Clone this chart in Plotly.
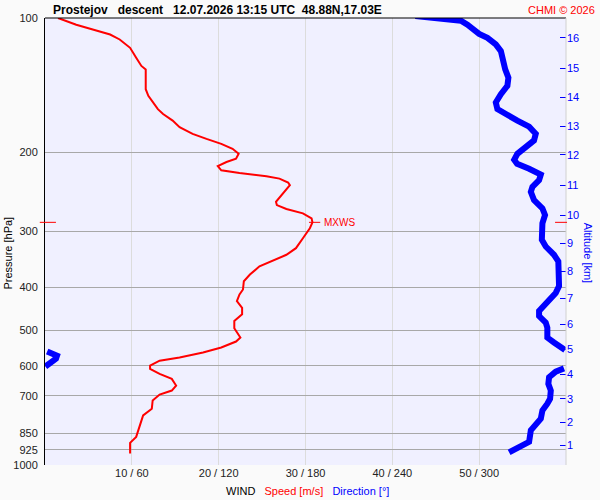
import numpy as np
import plotly.graph_objects as go

# ---------------- data ----------------
speed_p = [100, 103.5, 106.2, 108.9, 111.7, 116.6, 122.7, 128.0, 130.3, 144.3,
           149.3, 154.5, 159.9, 164.0, 169.6, 175.5, 181.6, 186.4, 191.2, 196.2,
           201.3, 206.5, 210.0, 214.4, 219.1, 222.2, 225.9, 228.7, 233.4, 236.6,
           244.8, 257.7, 262.1, 267.5, 273.6, 280.7, 286.5, 295.4, 311.0, 327.3,
           338.6, 349.1, 359.4, 375.0, 388.1, 404.9, 415.5, 429.9, 444.9, 460.2,
           476.2, 494.3, 518.7, 529.4, 546.0, 560.1, 574.6, 584.4, 599.5, 609.7,
           625.5, 641.8, 664.2, 681.5, 695.6, 717.3, 748.2, 774.3, 822.0, 865.1,
           892.1, 941.9]
speed = [1.5, 3.6, 5.6, 7.5, 8.6, 9.8, 10.5, 11.1, 11.6, 11.6,
         11.9, 12.4, 13.0, 13.6, 14.7, 15.5, 17.0, 18.6, 20.3, 21.6,
         22.3, 22.0, 20.9, 19.9, 20.3, 22.4, 25.5, 27.0, 28.0, 28.2,
         27.6, 26.6, 26.7, 27.8, 29.7, 30.7, 30.8, 30.5, 29.7, 28.9,
         27.8, 26.2, 24.7, 23.6, 22.9, 22.8, 22.4, 22.1, 22.7, 22.7,
         21.8, 21.8, 22.5, 22.0, 20.3, 18.2, 15.5, 13.2, 12.1, 12.1,
         13.2, 14.6, 15.1, 14.6, 13.2, 12.4, 12.3, 11.3, 10.9, 10.5,
         9.8, 9.8]

dir_p = [99.0, 99.6, 100.4, 101.4, 103.5, 106.2, 108.5, 110.8, 114.6, 118.6,
         124.8, 130.3, 136.0, 141.8, 148.1, 154.5, 159.9, 164.5, 169.6, 175.0,
         181.6, 187.9, 194.5, 201.3, 207.6, 211.8, 217.4, 224.1, 230.6, 238.6,
         244.8, 255.5, 266.7, 275.9, 287.9, 313.5, 324.5, 338.6, 350.4, 381.6,
         398.1, 412.1, 429.9, 452.4, 464.2, 480.4, 492.8, 518.7, 532.1, 546.0,
         553.0, 557.0, 561.0, 569.6, 578.4, 590.3, 602.0, 607.8, 618.2, 636.6,
         658.5, 681.5, 710.9, 729.4, 754.8, 787.5, 815.0, 836.2, 887.6, 906.0,
         918.2, 937.1]
direction = [255.9, 267.6, 279.3, 287.4, 291.9, 296.6, 300.0, 305.7, 311.5, 315.0,
             316.1, 318.0, 320.2, 319.5, 315.0, 311.5, 312.6, 318.4, 326.4, 334.5,
             339.1, 337.9, 332.2, 326.4, 324.2, 326.2, 334.5, 342.6, 341.4, 336.8,
             335.7, 337.9, 343.7, 345.5, 343.7, 343.3, 346.0, 351.7, 354.7, 354.7,
             355.2, 352.9, 347.1, 341.4, 341.4, 346.0, 347.1, 347.1, 351.7, 356.4,
             359.3, 1.5, 4.8, 8.3, 7.6, 3.4, 0.3, 358.6, 352.9, 348.3,
             347.8, 349.5, 349.0, 347.1, 343.7, 342.6, 339.1, 335.7, 334.5, 329.9,
             325.3, 320.7]

pressure_ticks = [100, 200, 300, 400, 500, 600, 700, 850, 925, 1000]
speed_ticks = [10, 20, 30, 40, 50]
speed_tick_text = ["10 / 60", "20 / 120", "30 / 180", "40 / 240", "50 / 300"]
alt_km = list(range(1, 17))
alt_p = [902.8, 803.9, 710.9, 627.8, 551.0, 484.3, 423.3, 368.7,
         319.5, 275.9, 236.6, 202.3, 174.7, 150.6, 129.4, 110.8]

title_text = ("Prostejov\u00a0\u00a0\u00a0descent\u00a0\u00a0\u00a012.07.2026 13:15 UTC"
              "\u00a0\u00a048.88N,17.03E")

# ---------------- figure ----------------
FONT = "Liberation Sans, Arial, sans-serif"
RED = "#FF0000"
BLUE = "#0000FF"

# split direction where it wraps around 0/360
dx, dy = [], []
for i, (d, p) in enumerate(zip(direction, dir_p)):
    if i > 0 and abs(d - direction[i - 1]) > 180:
        dx.append(None)
        dy.append(None)
    dx.append(d)
    dy.append(p)

fig = go.Figure()
fig.add_trace(go.Scatter(x=speed, y=speed_p, mode="lines",
                         line=dict(color=RED, width=2), hoverinfo="skip",
                         xaxis="x", yaxis="y"))
fig.add_trace(go.Scatter(x=dx, y=dy, mode="lines",
                         line=dict(color=BLUE, width=6), hoverinfo="skip",
                         connectgaps=False, xaxis="x2", yaxis="y"))
# invisible trace so the altitude axis is drawn
fig.add_trace(go.Scatter(x=[None] * len(alt_p), y=alt_p, mode="lines",
                         hoverinfo="skip", xaxis="x", yaxis="y2"))

imax = int(np.argmax(speed))
vmax = speed[imax]
pmax = speed_p[imax]

shapes = [
    dict(type="line", xref="paper", yref="paper", x0=0, x1=1, y0=1, y1=1,
         line=dict(color="black", width=1)),
    dict(type="line", xref="paper", yref="paper", x0=1, x1=1, y0=0, y1=1,
         line=dict(color="#D0D0D0", width=1)),
    dict(type="line", xref="paper", yref="y", x0=-0.01, x1=0.021,
         y0=pmax, y1=pmax, line=dict(color=RED, width=1)),
    dict(type="line", xref="x", yref="y", x0=vmax - 0.4, x1=vmax + 0.9,
         y0=pmax, y1=pmax, line=dict(color=RED, width=1)),
    dict(type="line", xref="paper", yref="y", x0=0.979, x1=1.002,
         y0=pmax, y1=pmax, line=dict(color=RED, width=1)),
]

annotations = [
    dict(text=title_text, xref="paper", yref="paper", x=0.0115, y=1.0178,
         xanchor="left", yanchor="middle", showarrow=False,
         font=dict(family=FONT, size=12, color="black", weight="bold")),
    dict(text="CHMI © 2026", xref="paper", yref="paper", x=1.0595, y=1.0178,
         xanchor="right", yanchor="middle", showarrow=False,
         font=dict(family=FONT, size=11, color=RED)),
    dict(text="MXWS", xref="x", yref="y", x=vmax + 1.15, y=np.log10(pmax),
         xanchor="left", yanchor="middle", showarrow=False,
         font=dict(family=FONT, size=10, color=RED)),
    dict(text="Pressure [hPa]", xref="paper", yref="paper", x=-0.071, y=0.473,
         xanchor="center", yanchor="middle", textangle=-90, showarrow=False,
         font=dict(family=FONT, size=11, color="black")),
    dict(text="Altitude [km]", xref="paper", yref="paper", x=1.044, y=0.473,
         xanchor="center", yanchor="middle", textangle=90, showarrow=False,
         font=dict(family=FONT, size=11, color=BLUE)),
    dict(text=("WIND\u00a0\u00a0 <span style='color:#FF0000'>Speed [m/s]</span>"
               "\u00a0\u00a0 <span style='color:#0000FF'>Direction [°]</span>"),
         xref="paper", yref="paper", x=0.503, y=-0.0578,
         xanchor="center", yanchor="middle", showarrow=False,
         font=dict(family=FONT, size=11, color="black")),
]

fig.update_layout(
    width=600, height=500,
    margin=dict(l=45, r=34, t=15, b=35),
    paper_bgcolor="#FAFAFA", plot_bgcolor="#F0F0FF",
    showlegend=False,
    font=dict(family=FONT, size=11, color="#222222"),
    xaxis=dict(range=[0, 60], tickvals=speed_ticks, ticktext=speed_tick_text,
               showgrid=True, gridcolor="#DCDCDC", gridwidth=1,
               zeroline=False, showline=False, ticks="",
               tickfont=dict(family=FONT, size=11, color="#222222"),
               fixedrange=True),
    xaxis2=dict(range=[0, 360], overlaying="x", anchor="y", visible=False),
    yaxis=dict(type="log", range=[3, 2], tickvals=pressure_ticks,
               ticktext=[str(v) for v in pressure_ticks],
               showgrid=True, gridcolor="#A8A8A8", gridwidth=1,
               zeroline=False, showline=True, linecolor="black", linewidth=1,
               ticks="", ticklabelstandoff=4,
               tickfont=dict(family=FONT, size=11, color="#222222")),
    yaxis2=dict(type="log", range=[3, 2], overlaying="y", side="right",
                anchor="x", tickvals=alt_p, ticktext=[str(k) for k in alt_km],
                showgrid=False, zeroline=False, showline=False,
                ticks="inside", ticklen=6, tickcolor=BLUE, tickwidth=1,
                tickfont=dict(family=FONT, size=11, color=BLUE)),
    shapes=shapes,
    annotations=annotations,
)

fig.write_html("out.html",
               config={"displayModeBar": False, "staticPlot": True},
               post_script="document.body.style.margin='0';"
                           "document.body.style.overflow='hidden';")
